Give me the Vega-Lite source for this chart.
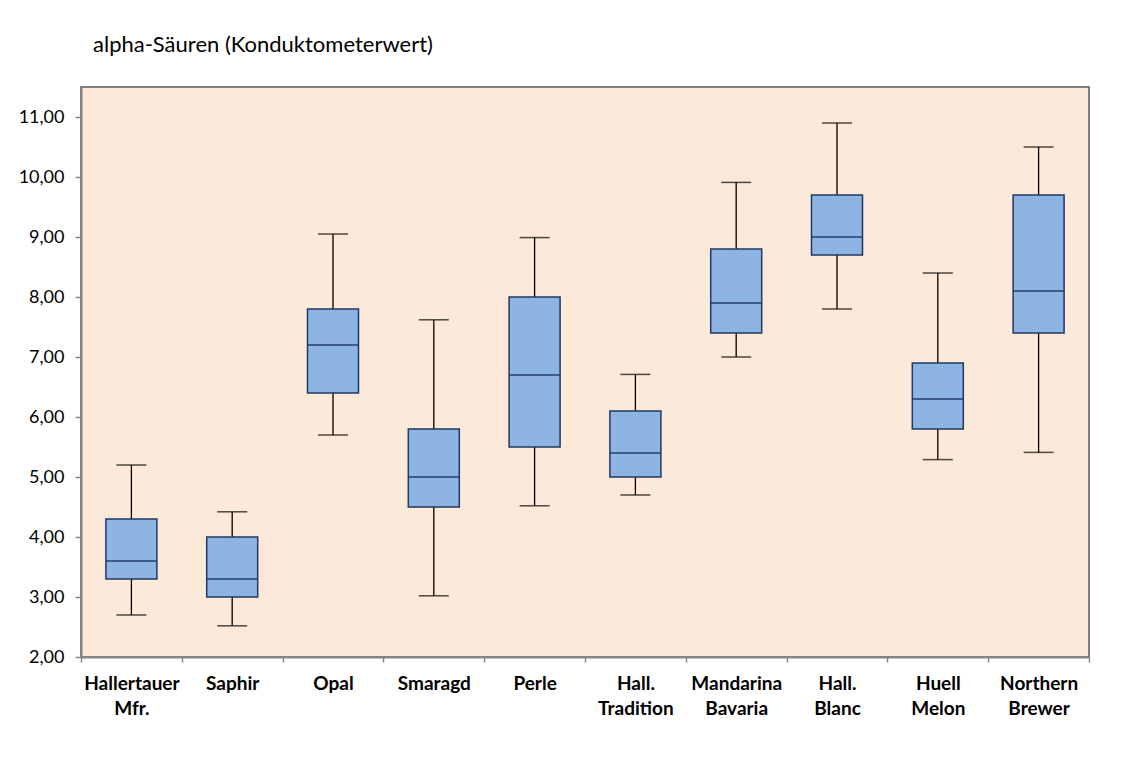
{
  "$schema": "https://vega.github.io/schema/vega-lite/v6.json",
  "autosize": "none",
  "width": 1008,
  "height": 570,
  "padding": {"left": 81, "top": 87, "right": 39, "bottom": 101},
  "background": "white",
  "title": {
    "text": "alpha-Säuren (Konduktometerwert)",
    "anchor": "start",
    "frame": "group",
    "dx": 12,
    "offset": 30,
    "font": "Lato",
    "fontSize": 22,
    "fontWeight": "normal",
    "color": "#000000"
  },
  "config": {
    "view": {"fill": "#FDE9D9", "stroke": "#595959", "strokeWidth": 1.5},
    "font": "Lato"
  },
  "data": {
    "values": [
      {"variety": "Hallertauer Mfr.", "min": 2.7, "q1": 3.3, "median": 3.6, "q3": 4.3, "max": 5.2},
      {"variety": "Saphir", "min": 2.52, "q1": 3.0, "median": 3.3, "q3": 4.0, "max": 4.42},
      {"variety": "Opal", "min": 5.7, "q1": 6.4, "median": 7.2, "q3": 7.8, "max": 9.05},
      {"variety": "Smaragd", "min": 3.02, "q1": 4.5, "median": 5.0, "q3": 5.8, "max": 7.62},
      {"variety": "Perle", "min": 4.52, "q1": 5.5, "median": 6.7, "q3": 8.0, "max": 8.99},
      {"variety": "Hall. Tradition", "min": 4.7, "q1": 5.0, "median": 5.4, "q3": 6.1, "max": 6.71},
      {"variety": "Mandarina Bavaria", "min": 7.0, "q1": 7.4, "median": 7.9, "q3": 8.8, "max": 9.91},
      {"variety": "Hall. Blanc", "min": 7.8, "q1": 8.7, "median": 9.0, "q3": 9.7, "max": 10.9},
      {"variety": "Huell Melon", "min": 5.29, "q1": 5.8, "median": 6.3, "q3": 6.9, "max": 8.4},
      {"variety": "Northern Brewer", "min": 5.41, "q1": 7.4, "median": 8.1, "q3": 9.7, "max": 10.5}
    ]
  },
  "encoding": {
    "x": {
      "field": "variety",
      "type": "nominal",
      "sort": null,
      "scale": {"paddingInner": 0, "paddingOuter": 0},
      "axis": {
        "title": null,
        "labelAngle": 0,
        "labelFont": "Lato",
        "labelFontSize": 19,
        "labelFontWeight": "bold",
        "labelColor": "#000000",
        "labelExpr": "split(datum.label, ' ')",
        "labelLineHeight": 25,
        "labelBaseline": "top",
        "labelPadding": 12,
        "tickBand": "extent",
        "tickSize": 5,
        "tickColor": "#868686",
        "tickWidth": 1.5,
        "domainColor": "#868686",
        "domainWidth": 2
      }
    }
  },
  "layer": [
    {
      "mark": {"type": "rule", "color": "#000000", "strokeWidth": 1.3},
      "encoding": {
        "y": {
          "field": "min",
          "type": "quantitative",
          "scale": {"domain": [2, 11.5], "nice": false, "zero": false},
          "axis": {
            "title": null,
            "values": [2, 3, 4, 5, 6, 7, 8, 9, 10, 11],
            "labelExpr": "replace(format(datum.value, '.2f'), '.', ',')",
            "labelFont": "Lato",
            "labelFontSize": 18,
            "labelColor": "#000000",
            "labelPadding": 11,
            "grid": false,
            "tickSize": 6,
            "tickColor": "#868686",
            "tickWidth": 1.5,
            "domainColor": "#868686",
            "domainWidth": 2
          }
        },
        "y2": {"field": "max"}
      }
    },
    {
      "mark": {"type": "bar", "size": 51, "fill": "#8EB4E3", "stroke": "#1F3864", "strokeWidth": 1.5},
      "encoding": {
        "y": {"field": "q1", "type": "quantitative"},
        "y2": {"field": "q3"}
      }
    },
    {
      "mark": {"type": "tick", "size": 51, "thickness": 2, "color": "#1F3864"},
      "encoding": {"y": {"field": "median", "type": "quantitative"}}
    },
    {
      "mark": {"type": "tick", "size": 30, "thickness": 1.5, "color": "#000000"},
      "encoding": {"y": {"field": "min", "type": "quantitative"}}
    },
    {
      "mark": {"type": "tick", "size": 30, "thickness": 1.5, "color": "#000000"},
      "encoding": {"y": {"field": "max", "type": "quantitative"}}
    }
  ]
}
